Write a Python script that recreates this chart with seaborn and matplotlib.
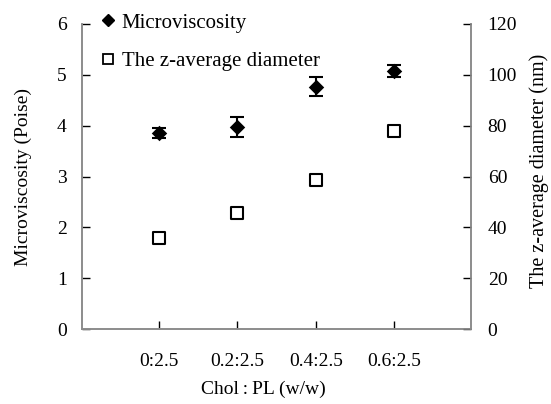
import matplotlib
matplotlib.use("Agg")
import matplotlib.pyplot as plt
import seaborn as sns
import pandas as pd
from matplotlib.lines import Line2D

categories = ["0:2.5", "0.2:2.5", "0.4:2.5", "0.6:2.5"]
microviscosity = [3.86, 3.97, 4.77, 5.08]
micro_err = [0.10, 0.20, 0.18, 0.12]
diameter = [36.0, 45.8, 58.6, 78.0]
left_ticks = [0, 1, 2, 3, 4, 5, 6]
right_ticks = [0, 20, 40, 60, 80, 100, 120]

sns.set_style("white")
plt.rcParams["font.family"] = ["Liberation Serif", "DejaVu Serif"]
plt.rcParams["text.color"] = "black"
plt.rcParams["axes.labelcolor"] = "black"
plt.rcParams["xtick.color"] = "black"
plt.rcParams["ytick.color"] = "black"

df = pd.DataFrame({"ratio": categories, "micro": microviscosity,
                   "err": micro_err, "diam": diameter})

fig = plt.figure(figsize=(5.51, 4.04), dpi=100)
ax = fig.add_axes([82/551, 75/404, (471-82)/551, (329-24)/404])
ax2 = ax.twinx()

sns.scatterplot(data=df, x="ratio", y="micro", ax=ax, marker="D", s=62,
                color="black", edgecolor="black", linewidth=0, zorder=3, legend=False)
ax.errorbar(df["ratio"], df["micro"], yerr=df["err"], fmt="none",
            ecolor="black", elinewidth=1.5, capsize=5, capthick=1.5, zorder=2)
sns.scatterplot(data=df, x="ratio", y="diam", ax=ax2, marker="s", s=70,
                facecolor="white", edgecolor="black", linewidth=1.5, zorder=3, legend=False)

ax.set_xlim(-0.98, 3.98)
ax.set_ylim(0, 6)
ax2.set_ylim(0, 120)
ax.set_yticks(left_ticks)
ax2.set_yticks(right_ticks)
ax.set_xticks(range(len(categories)))
ax.set_xticklabels(categories)

for a in (ax, ax2):
    for s in a.spines.values():
        s.set_color("#8c8c8c")
        s.set_linewidth(1.2)
    a.spines["top"].set_visible(False)
    a.grid(False)

ax.tick_params(axis="y", direction="in", length=6, width=1, colors="black",
               labelsize=14, pad=11, left=True)
ax.tick_params(axis="x", direction="in", length=6, width=1, colors="black",
               labelsize=14, pad=17, bottom=True)
ax2.tick_params(axis="y", direction="in", length=6, width=1, colors="black",
                labelsize=14, pad=12, right=True)

ax.set_xlabel("Chol\u2009:\u2009PL (w/w)", fontsize=14, labelpad=8, x=0.465)
ax.set_ylabel("Microviscosity (Poise)", fontsize=14, labelpad=18)
ax2.set_ylabel("The z-average diameter (nm)", fontsize=14.5, labelpad=9, y=0.52)

handles = [
    Line2D([], [], marker="D", color="black", linestyle="none", markersize=6),
    Line2D([], [], marker="s", markerfacecolor="white", markeredgecolor="black",
           markeredgewidth=1.3, linestyle="none", markersize=7),
]
fig.legend(handles, ["Microviscosity", "The z-average diameter"], loc="upper left",
           bbox_to_anchor=(101/551, 1 - 13/404), frameon=False, fontsize=15,
           handlelength=0.7, handletextpad=0.3, labelspacing=0.9,
           borderpad=0, borderaxespad=0)

fig.savefig("out.png", dpi=100)
